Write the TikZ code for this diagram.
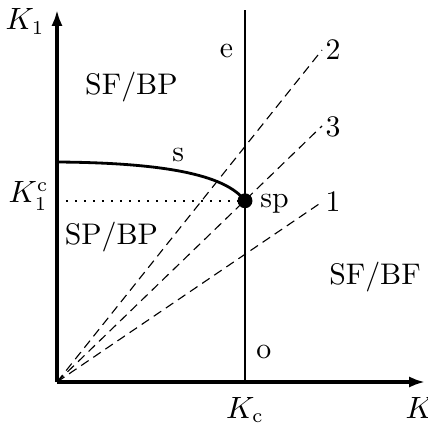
\documentclass[tikz,border=0pt]{standalone}
\usepackage{tikz}
\usetikzlibrary{arrows.meta, positioning}

\begin{document}
\begin{tikzpicture}[x=0.5cm, y=0.5cm, font=\fontsize{10.6}{12.7}\selectfont]
  \useasboundingbox (-1.425,-1.025) rectangle (9.275,9.55);
  % Axes
  \coordinate (O) at (0,0);
  \coordinate (Ktip) at (9.2,0);
  \coordinate (K1tip) at (0,9.3);
  \draw[line width=1.1pt, -{Latex[length=2mm,width=1.4mm]}] (O) -- (Ktip);
  \draw[line width=1.1pt, -{Latex[length=2mm,width=1.4mm]}] (O) -- (K1tip);
  \node[anchor=base east, inner sep=0pt] (K1) at (-0.3,8.8) {$K_1$};
  \node[anchor=base west, inner sep=0pt] (K) at (8.7,-0.9) {$K$};
  % Critical line and special point
  \coordinate (Kcbase) at (4.7,0);
  \coordinate (Kctop) at (4.7,9.3);
  \draw[line width=0.8pt] (Kcbase) -- (Kctop);
  \node[anchor=base, inner sep=0pt] (Kc) at (4.7,-0.9) {$K_{\mathrm{c}}$};
  \node[circle, fill, inner sep=0pt, minimum size=5.3pt] (sp) at (4.7,4.53) {};
  \node[anchor=base west, inner sep=0pt] (splabel) at (5.07,4.35) {sp};
  \coordinate (K1c) at (0,4.53);
  \node[anchor=base east, inner sep=0pt] (K1clabel) at (-0.2,4.475) {$K_1^{\mathrm{c}}$};
  \draw[line width=0.8pt, dash pattern=on 0.8pt off 2.4pt] (K1c) -- (sp);
  % Phase boundary s
  \coordinate (sstart) at (0,5.5);
  \draw[line width=1pt] (sstart) .. controls (2.6,5.48) and (4.2,5.2) .. (sp.center);
  \node[anchor=base, inner sep=0pt] (s) at (3.03,5.5) {s};
  % Dashed rays
  \coordinate (r2) at (6.625,8.3);
  \coordinate (r3) at (6.625,6.4);
  \coordinate (r1) at (6.625,4.5);
  \foreach \r/\b in {1/4.25,2/8.05,3/6.125}{
    \draw[thin, dash pattern=on 3.2pt off 2pt] (O) -- (r\r);
    \node[anchor=base west, inner sep=0pt] (l\r) at (6.7,\b) {\r};
  }
  % Region labels
  \node[anchor=base, inner sep=0pt] (e) at (4.24,8.1) {e};
  \node[anchor=base, inner sep=0pt] (o) at (5.17,0.6) {o};
  \node[anchor=base, inner sep=0pt] (sfbp) at (1.86,7.175) {SF/BP};
  \node[anchor=base, inner sep=0pt] (spbp) at (1.36,3.425) {SP/BP};
  \node[anchor=base, inner sep=0pt] (sfbf) at (7.95,2.425) {SF/BF};
\end{tikzpicture}
\end{document}
